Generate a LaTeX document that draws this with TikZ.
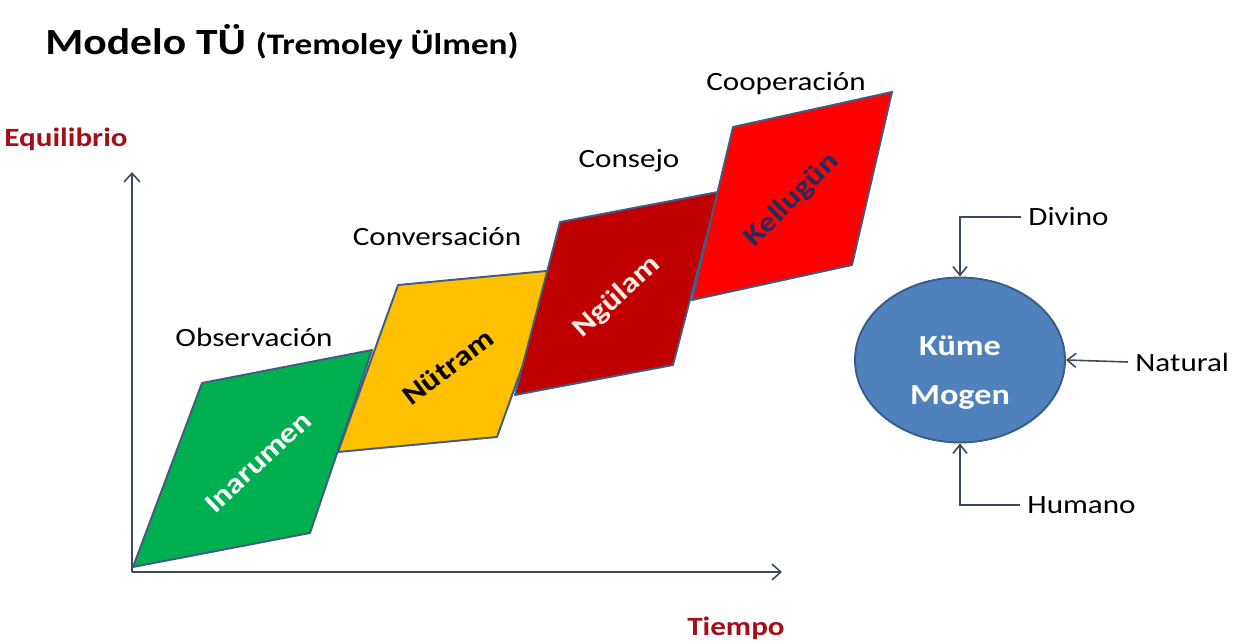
\documentclass[tikz,border=0pt]{standalone}
\usepackage{fontspec}
\setmainfont{Carlito}[FakeStretch=1.18]
\usetikzlibrary{arrows.meta,shapes.geometric}
\definecolor{axisgray}{RGB}{59,74,94}
\definecolor{edgeblue}{RGB}{64,92,130}
\definecolor{stepgreen}{RGB}{0,176,80}
\definecolor{stepyellow}{RGB}{255,192,0}
\definecolor{stepdark}{RGB}{192,0,0}
\definecolor{stepred}{RGB}{255,0,0}
\definecolor{axisred}{RGB}{163,14,24}
\definecolor{kumeblue}{RGB}{79,129,189}
\definecolor{kumeedge}{RGB}{56,93,138}
\definecolor{navytext}{RGB}{31,45,95}
\definecolor{paletext}{RGB}{245,236,228}

\tikzset{
  phase/.style={draw=edgeblue,line width=1.1pt,line join=round},
  phasetext/.style={font=\fontsize{16}{19}\selectfont\bfseries},
  stagetext/.style={font=\fontsize{15}{18}\selectfont,anchor=base},
  axislabel/.style={font=\fontsize{15}{18}\selectfont\bfseries,text=axisred,anchor=base},
  axisline/.style={draw=axisgray,line width=0.9pt,-{Straight Barb[length=5pt,width=9pt]}},
  feed/.style={draw=axisgray,line width=0.9pt,-{Straight Barb[length=5pt,width=8pt]}},
  sourcetext/.style={font=\fontsize{15}{18}\selectfont,anchor=west,inner sep=4pt},
}

\begin{document}
\begin{tikzpicture}[x=0.02cm,y=-0.02cm]
  \useasboundingbox (0,0) rectangle (1247,644);

  \node[font=\fontsize{21}{24}\selectfont\bfseries,anchor=base west,inner sep=0pt]
    (title) at (45,55) {Modelo TÜ {\fontsize{17}{20}\selectfont(Tremoley Ülmen)}};

  % axes
  \coordinate (origin) at (132,572);
  \coordinate (ytip) at (132,172);
  \coordinate (xtip) at (782,572);
  \draw[axisline] (origin) -- (ytip);
  \draw[axisline] (origin) -- (xtip);
  \node[axislabel] (equil) at (66,147) {Equilibrio};
  \node[axislabel] (tiempo) at (736,635) {Tiempo};

  % the four steps
  \filldraw[phase,fill=stepgreen]
    (133,567) -- (202,383) -- (372,350) -- (310,533) -- cycle;
  \node[phasetext,text=white,rotate=43] (inarumen) at (258,462) {Inarumen};

  \filldraw[phase,fill=stepyellow]
    (338,452) -- (398,285) -- (557,270) -- (497,437) -- cycle;
  \node[phasetext,text=black,rotate=37] (nutram) at (448,367) {Nütram};

  \filldraw[phase,fill=stepdark]
    (515,395) -- (560,222) -- (718,192) -- (673,365) -- cycle;
  \node[phasetext,text=paletext,rotate=42] (ngulam) at (617,297) {Ngülam};

  \filldraw[phase,fill=stepred]
    (692,300) -- (733,127) -- (892,92) -- (852,265) -- cycle;
  \node[phasetext,text=navytext,rotate=45] (kellugun) at (792,200) {Kellugün};

  \node[stagetext] (obs) at (254,347) {Observación};
  \node[stagetext] (conv) at (437,246) {Conversación};
  \node[stagetext] (consejo) at (629,168) {Consejo};
  \node[stagetext] (coop) at (786,91) {Cooperación};

  % Küme Mogen and its three sources
  \node[ellipse,fill=kumeblue,draw=kumeedge,line width=1.1pt,
        minimum width=4.2cm,minimum height=3.3cm] (kume) at (960,360) {};
  \node[align=center,text=white,font=\fontsize{16.5}{28}\selectfont\bfseries]
    (kumetext) at (960,373) {Küme\\Mogen};

  \node[sourcetext] (divino) at (1021,217) {Divino};
  \node[sourcetext] (natural) at (1128,362) {Natural};
  \node[sourcetext] (humano) at (1020,505) {Humano};
  \draw[feed] (divino.west) -| (kume.north);
  \draw[feed] (natural.west) -- (kume.east);
  \draw[feed] (humano.west) -| (kume.south);
\end{tikzpicture}
\end{document}
